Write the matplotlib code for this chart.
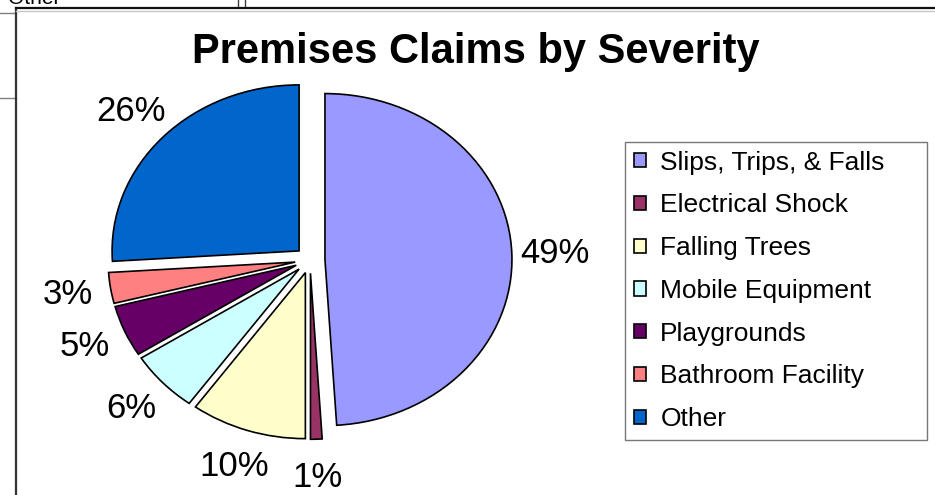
import matplotlib
matplotlib.use('Agg')
import matplotlib.pyplot as plt
from matplotlib.lines import Line2D
from matplotlib.patches import Patch

plt.rcParams['font.family'] = ['Liberation Sans', 'DejaVu Sans']

categories = ['Slips, Trips, & Falls', 'Electrical Shock', 'Falling Trees',
              'Mobile Equipment', 'Playgrounds', 'Bathroom Facility', 'Other']
shares = [49, 1, 10, 6, 5, 3, 26]
colors = ['#9999FF', '#993366', '#FFFFCC', '#CCFFFF', '#660066', '#FF8080', '#0066CC']

W, H = 935, 495
fig = plt.figure(figsize=(W / 100, H / 100), dpi=100)


def px(x, y):
    # pixel coords (from top-left) -> figure fraction
    return x / W, 1 - y / H


# bits of the spreadsheet behind the chart
fig.text(*px(8, 4), 'Other', fontsize=15, va='baseline', ha='left')
for (x0, y0, x1, y1, c) in [(0, 13, 16, 13, '#808080'), (0, 98, 16, 98, '#808080'),
                            (238, 0, 238, 7, '#404040'), (245, 0, 245, 7, '#404040')]:
    fig.add_artist(Line2D([x0 / W, x1 / W], [1 - y0 / H, 1 - y1 / H], color=c, lw=1))
# chart area border
fig.add_artist(Line2D([16 / W, 16 / W], [0, 1 - 8 / H], color='#333333', lw=1.6))
fig.add_artist(Line2D([16 / W, 1], [1 - 8 / H, 1 - 8 / H], color='#111111', lw=1.6))
fig.add_artist(Line2D([16 / W, 1], [1 - 10.5 / H, 1 - 10.5 / H], color='#c8c8c8', lw=1))

# pie: centre at (310, 260) px, radius ~187 px wide, ~166 px tall
cx, cy = 310, 260
rx, ry = 187, 166
lim = 1.3
ax = fig.add_axes([(cx - lim * rx) / W, (H - cy - lim * ry) / H,
                   2 * lim * rx / W, 2 * lim * ry / H])
wedges, texts, autotexts = ax.pie(
    shares, colors=colors, startangle=90, counterclock=False,
    explode=[0.08] * len(shares), autopct='%1.0f%%', pctdistance=1.23,
    wedgeprops=dict(edgecolor='black', linewidth=1.2),
    textprops=dict(fontsize=25))
ax.set_aspect('auto')
ax.set_xlim(-lim, lim)
ax.set_ylim(-lim, lim)
ax.axis('off')

fig.text(*px(476, 52), 'Premises Claims by Severity', fontsize=30,
         fontweight='bold', ha='center', va='center')

handles = [Patch(facecolor=c, edgecolor='black', linewidth=1.2) for c in colors]
x0, y0 = px(625, 440)
leg = fig.legend(handles, categories, loc='lower left',
                 bbox_to_anchor=(x0, y0, 302 / W, 299 / H), mode='expand',
                 fontsize=19, frameon=True, fancybox=False, shadow=False,
                 handlelength=0.45, handleheight=0.45, handletextpad=0.55,
                 labelspacing=0.71, borderpad=0.34, borderaxespad=0)
leg.get_frame().set_edgecolor('#555555')
leg.get_frame().set_linewidth(1.0)

fig.savefig('out.png', dpi=100)
